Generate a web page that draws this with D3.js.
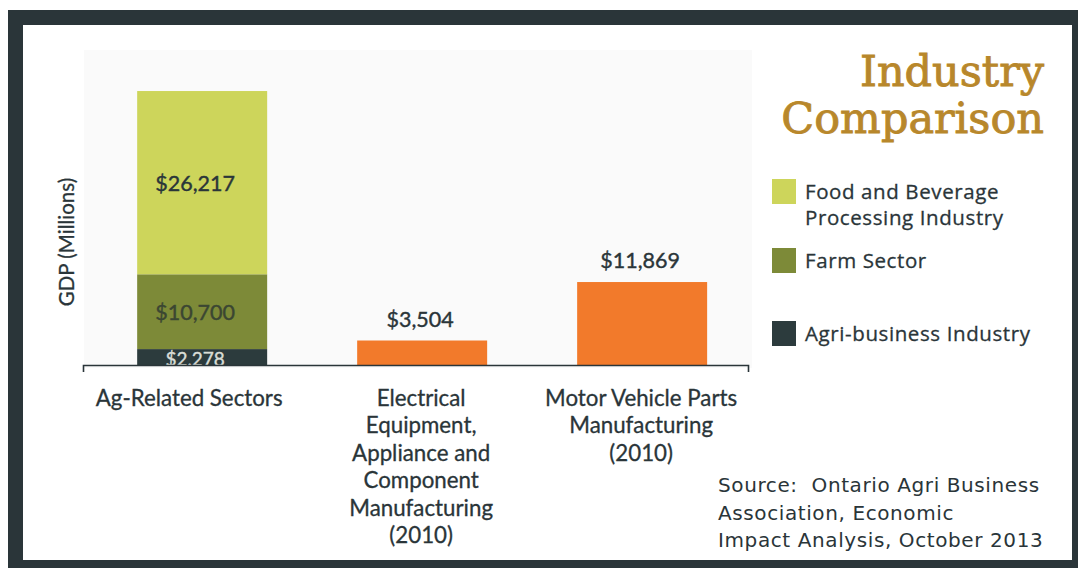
<!DOCTYPE html>
<html>
<head>
<meta charset="utf-8">
<script src="https://cdn.jsdelivr.net/npm/d3@7"></script>
<style>
  body { margin: 0; background: #fff; }
  svg { display: block; }
</style>
</head>
<body>
<svg id="chart" width="1078" height="568"></svg>
<script>
// data
var categories = ["Ag-Related Sectors", "Electrical Equipment", "Motor Vehicle Parts"];
var categoryLines = [
  ["Ag-Related Sectors"],
  ["Electrical", "Equipment,", "Appliance and", "Component", "Manufacturing", "(2010)"],
  ["Motor Vehicle Parts", "Manufacturing", "(2010)"]
];
var agriBusiness = [2278, 0, 0];
var farmSector = [10700, 0, 0];
var foodBeverage = [26217, 0, 0];
var otherIndustry = [0, 3504, 11869];
var legendLabels = [["Food and Beverage", "Processing Industry"], ["Farm Sector"], ["Agri-business Industry"]];
var sourceLines = ["Source:  Ontario Agri Business", "Association, Economic", "Impact Analysis, October 2013"];

var keys = ["agri", "farm", "food", "other"];
var colors = {"agri": "#2c3b3d", "farm": "#7d8a38", "food": "#cdd55b", "other": "#f27a2b"};
var textColor = "#2a3539";

var rows = categories.map(function(c, i) {
  return {cat: c, agri: agriBusiness[i], farm: farmSector[i], food: foodBeverage[i], other: otherIndustry[i]};
});
var series = d3.stack().keys(keys)(rows);

var svg = d3.select('#chart');

// frame
svg.append('rect')
  .attr('x', 8).attr('y', 10).attr('width', 1070).attr('height', 558)
  .attr('fill', '#2a3539');
svg.append('rect')
  .attr('x', 23).attr('y', 25).attr('width', 1049).attr('height', 535)
  .attr('fill', '#fff');
// faint scanned backdrop
svg.append('rect')
  .attr('x', 84).attr('y', 50).attr('width', 668).attr('height', 318)
  .attr('fill', '#fafafa');

// scales
var xScale = d3.scaleBand()
  .domain(categories)
  .range([83, 748])
  .paddingInner(90 / 220)
  .paddingOuter(0.216)
  .align(0.57);
var yScale = d3.scaleLinear()
  .domain([0, 40000])
  .range([365, 85.4]);

// bars
svg.append('g').selectAll('g')
  .data(series)
  .enter().append('g')
  .attr('fill', function(d){ return colors[d.key]; })
  .selectAll('rect')
  .data(function(d){ return d; })
  .enter().append('rect')
  .attr('x', function(d){ return xScale(d.data.cat); })
  .attr('y', function(d){ return yScale(d[1]); })
  .attr('width', xScale.bandwidth())
  .attr('height', function(d){ return yScale(d[0]) - yScale(d[1]); });

// segment labels inside the stacked bar
svg.append('clipPath').attr('id', 'barclip')
  .append('rect').attr('x', 0).attr('y', 0).attr('width', 1078).attr('height', yScale(0));

var segColors = {"agri": "#d9ddd6", "farm": "#3b4632", "food": textColor};
var segLabels = [];
series.forEach(function(s) {
  s.forEach(function(d) {
    if (s.key !== 'other' && d[1] - d[0] > 0) segLabels.push({key: s.key, d: d});
  });
});
svg.append('g').attr('clip-path', 'url(#barclip)')
  .selectAll('text')
  .data(segLabels)
  .enter().append('text')
  .attr('x', function(s){ return xScale(s.d.data.cat) + xScale.bandwidth() / 2 - 7; })
  .attr('y', function(s){ return (yScale(s.d[0]) + yScale(s.d[1])) / 2 + (s.key === 'agri' ? 9 : 8); })
  .attr('text-anchor', 'middle')
  .attr('font-family', 'Lato, sans-serif')
  .attr('font-size', function(s){ return s.key === 'agri' ? 19 : 21.5; })
  .attr('fill', function(s){ return segColors[s.key]; })
  .attr('stroke', function(s){ return segColors[s.key]; })
  .attr('stroke-width', 0.4)
  .text(function(s){ return '$' + d3.format(',')(s.d[1] - s.d[0]); });

// value labels above single bars
svg.append('g').selectAll('text')
  .data(rows.filter(function(r){ return r.other > 0; }))
  .enter().append('text')
  .attr('x', function(r){ return xScale(r.cat) + xScale.bandwidth() / 2 - 2; })
  .attr('y', function(r){ return yScale(r.other) - 14; })
  .attr('text-anchor', 'middle')
  .attr('font-family', 'Lato, sans-serif')
  .attr('font-size', 21.5)
  .attr('fill', textColor)
  .attr('stroke', textColor)
  .attr('stroke-width', 0.4)
  .text(function(r){ return '$' + d3.format(',')(r.other); });

// x axis
var xAxis = d3.axisBottom(xScale).tickSizeInner(0).tickSizeOuter(7).tickFormat('');
var gx = svg.append('g')
  .attr('transform', 'translate(0,' + yScale(0) + ')')
  .call(xAxis);
gx.select('.domain').attr('stroke', textColor).attr('stroke-width', 1.6);

// category labels
svg.append('g').selectAll('text')
  .data(categories)
  .enter().append('text')
  .attr('x', function(c, i){ return xScale(c) + xScale.bandwidth() / 2 + (i === 0 ? -13 : -1); })
  .attr('y', 406)
  .attr('text-anchor', 'middle')
  .attr('font-family', 'Lato, sans-serif')
  .attr('font-size', 22.3)
  .attr('fill', textColor)
  .attr('stroke', textColor)
  .attr('stroke-width', 0.3)
  .each(function(c, i) {
    var t = d3.select(this);
    categoryLines[i].forEach(function(line, j) {
      t.append('tspan')
        .attr('x', t.attr('x'))
        .attr('dy', j === 0 ? 0 : 27.4)
        .text(line);
    });
  });

// y title
svg.append('text')
  .attr('transform', 'translate(74,242) rotate(-90)')
  .attr('text-anchor', 'middle')
  .attr('font-family', 'Lato, sans-serif')
  .attr('font-size', 20.5)
  .attr('fill', textColor)
  .attr('stroke', textColor)
  .attr('stroke-width', 0.3)
  .text('GDP (Millions)');

// title
svg.append('text')
  .attr('x', 1044).attr('y', 86)
  .attr('text-anchor', 'end')
  .attr('font-family', '"DejaVu Serif", serif')
  .attr('font-size', 43)
  .attr('fill', '#b8872b')
  .attr('stroke', '#b8872b')
  .attr('stroke-width', 0.9)
  .selectAll('tspan')
  .data(['Industry', 'Comparison'])
  .enter().append('tspan')
  .attr('x', 1044)
  .attr('dy', function(d, i){ return i === 0 ? 0 : 47; })
  .text(function(d){ return d; });

// legend
var legendKeys = ["food", "farm", "agri"];
var legendTop = [179, 248, 321];
var legend = svg.append('g').selectAll('g')
  .data(legendKeys)
  .enter().append('g')
  .attr('transform', function(d, i){ return 'translate(772,' + legendTop[i] + ')'; });
legend.append('rect')
  .attr('width', 24).attr('height', 25)
  .attr('fill', function(d){ return colors[d]; });
legend.append('text')
  .attr('x', 33).attr('y', 20)
  .attr('font-family', '"Open Sans", sans-serif')
  .attr('font-size', 20.5)
  .attr('letter-spacing', 0.6)
  .attr('fill', textColor)
  .attr('stroke', textColor)
  .attr('stroke-width', 0.3)
  .each(function(d, i) {
    var t = d3.select(this);
    legendLabels[i].forEach(function(line, j) {
      t.append('tspan').attr('x', 33).attr('dy', j === 0 ? 0 : 26).text(line);
    });
  });

// source
svg.append('text')
  .attr('x', 718).attr('y', 492)
  .attr('font-family', '"DejaVu Sans", Verdana, sans-serif')
  .attr('font-size', 20)
  .attr('letter-spacing', 0.6)
  .attr('fill', textColor)
  .selectAll('tspan')
  .data(sourceLines)
  .enter().append('tspan')
  .attr('x', 718)
  .attr('dy', function(d, i){ return i === 0 ? 0 : 27.5; })
  .attr('xml:space', 'preserve')
  .style('white-space', 'pre')
  .text(function(d){ return d; });
</script>
</body>
</html>
